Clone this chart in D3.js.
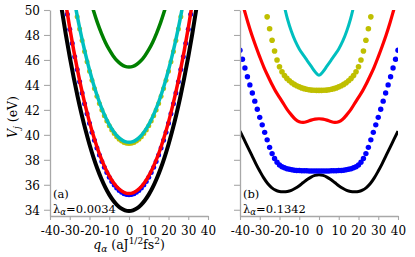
<!DOCTYPE html>
<html><head><meta charset="utf-8">
<script src="https://cdn.jsdelivr.net/npm/d3@7/dist/d3.min.js"></script>
<style>
html,body{margin:0;padding:0;background:#fff;}
svg{display:block;}
text{font-family:"DejaVu Serif",serif;}
</style></head>
<body>
<svg id="chart" width="415" height="257"></svg>
<script>
// ---------- data ----------
const qLine = [-40,-38,-36,-34,-32,-30,-28,-26,-24,-22,-20,-18,-16,-14,-12,-10,-8,-6,-4,-2,0,2,4,6,8,10,12,14,16,18,20,22,24,26,28,30,32,34,36,38,40];
const qDot = [-40,-38.75,-37.5,-36.25,-35,-33.75,-32.5,-31.25,-30,-28.75,-27.5,-26.25,-25,-23.75,-22.5,-21.25,-20,-18.75,-17.5,-16.25,-15,-13.75,-12.5,-11.25,-10,-8.75,-7.5,-6.25,-5,-3.75,-2.5,-1.25,0,1.25,2.5,3.75,5,6.25,7.5,8.75,10,11.25,12.5,13.75,15,16.25,17.5,18.75,20,21.25,22.5,23.75,25,26.25,27.5,28.75,30,31.25,32.5,33.75,35,36.25,37.5,38.75,40];

// panel (a), lambda = 0.0034
const aBlack = [56.75,54.34,52.09,50.00,48.05,46.25,44.58,43.05,41.65,40.38,39.23,38.20,37.28,36.48,35.79,35.21,34.74,34.37,34.11,33.95,33.90,33.95,34.11,34.37,34.74,35.21,35.79,36.48,37.28,38.20,39.23,40.38,41.65,43.05,44.58,46.25,48.05,50.00,52.09,54.34,56.75];
const aRed = [59.84,57.25,54.84,52.59,50.50,48.56,46.77,45.13,43.62,42.26,41.02,39.92,38.93,38.07,37.33,36.71,36.20,35.81,35.53,35.35,35.30,35.35,35.53,35.81,36.20,36.71,37.33,38.07,38.93,39.92,41.02,42.26,43.62,45.13,46.77,48.56,50.50,52.59,54.84,57.25,59.84];
const aCyan = [64.24,61.62,59.17,56.90,54.78,52.82,51.01,49.35,47.82,46.44,45.19,44.07,43.07,42.20,41.45,40.82,40.31,39.91,39.63,39.45,39.40,39.45,39.63,39.91,40.31,40.82,41.45,42.20,43.07,44.07,45.19,46.44,47.82,49.35,51.01,52.82,54.78,56.90,59.17,61.62,64.24];
const aGreen = [69.43,66.90,64.54,62.35,60.30,58.41,56.65,55.05,53.58,52.24,51.04,49.96,48.99,48.15,47.42,46.82,46.32,45.93,45.66,45.49,45.44,45.49,45.66,45.93,46.32,46.82,47.42,48.15,48.99,49.96,51.04,52.24,53.58,55.05,56.65,58.41,60.30,62.35,64.54,66.90,69.43];
const aBlue = [59.74,58.10,56.53,55.03,53.59,52.22,50.91,49.65,48.46,47.33,46.25,45.23,44.26,43.35,42.49,41.68,40.92,40.21,39.56,38.95,38.39,37.87,37.40,36.98,36.60,36.27,35.99,35.75,35.55,35.40,35.29,35.22,35.20,35.22,35.29,35.40,35.55,35.75,35.99,36.27,36.60,36.98,37.40,37.87,38.39,38.95,39.56,40.21,40.92,41.68,42.49,43.35,44.26,45.23,46.25,47.33,48.46,49.65,50.91,52.22,53.59,55.03,56.53,58.10,59.74];
const aYellow = [64.14,62.48,60.89,59.37,57.92,56.52,55.20,53.93,52.72,51.57,50.48,49.45,48.47,47.55,46.68,45.86,45.09,44.38,43.71,43.09,42.52,42.00,41.53,41.10,40.72,40.39,40.10,39.85,39.65,39.50,39.39,39.32,39.30,39.32,39.39,39.50,39.65,39.85,40.10,40.39,40.72,41.10,41.53,42.00,42.52,43.09,43.71,44.38,45.09,45.86,46.68,47.55,48.47,49.45,50.48,51.57,52.72,53.93,55.20,56.52,57.92,59.37,60.89,62.48,64.14];

// panel (b), lambda = 0.1342
const bBlack = [40.30,39.65,39.00,38.35,37.70,37.10,36.55,36.10,35.78,35.57,35.46,35.44,35.47,35.56,35.72,35.93,36.18,36.42,36.62,36.75,36.80,36.75,36.62,36.42,36.18,35.93,35.72,35.56,35.47,35.44,35.46,35.57,35.78,36.10,36.55,37.10,37.70,38.35,39.00,39.65,40.30];
const bRed = [51.20,50.10,49.00,48.00,47.10,46.25,45.45,44.75,44.10,43.50,43.00,42.50,42.00,41.60,41.25,41.05,41.00,41.07,41.18,41.26,41.29,41.26,41.18,41.07,41.00,41.05,41.25,41.60,42.00,42.50,43.00,43.50,44.10,44.75,45.45,46.25,47.10,48.00,49.00,50.10,51.20];
const bCyan = [69.00,67.10,65.30,63.50,61.70,60.00,58.20,56.60,55.00,53.50,52.00,50.60,49.30,48.30,47.50,46.88,46.40,45.95,45.50,45.05,44.77,45.05,45.50,45.95,46.40,46.88,47.50,48.30,49.30,50.60,52.00,53.50,55.00,56.60,58.20,60.00,61.70,63.50,65.30,67.10,69.00];
const bBlue = [46.78,46.05,45.35,44.65,44.00,43.35,42.70,42.05,41.40,40.80,40.20,39.60,39.00,38.50,38.10,37.80,37.58,37.45,37.36,37.29,37.24,37.20,37.17,37.15,37.14,37.13,37.12,37.12,37.11,37.11,37.10,37.10,37.10,37.10,37.10,37.11,37.11,37.12,37.12,37.13,37.14,37.15,37.17,37.20,37.24,37.29,37.36,37.45,37.58,37.80,38.10,38.50,39.00,39.60,40.20,40.80,41.40,42.05,42.70,43.35,44.00,44.65,45.35,46.05,46.78];
const bYellow = [59.40,58.50,57.60,56.70,55.80,54.90,54.00,53.10,52.20,51.30,50.35,49.45,48.50,47.58,46.72,46.00,45.45,45.05,44.75,44.52,44.33,44.17,44.04,43.93,43.84,43.76,43.70,43.65,43.61,43.58,43.57,43.56,43.56,43.56,43.57,43.58,43.61,43.65,43.70,43.76,43.84,43.93,44.04,44.17,44.33,44.52,44.75,45.05,45.45,46.00,46.72,47.58,48.50,49.45,50.35,51.30,52.20,53.10,54.00,54.90,55.80,56.70,57.60,58.50,59.40];

const xTicks = [-40,-30,-20,-10,0,10,20,30,40];
const yTicks = [34,36,38,40,42,44,46,48,50];
const panelLabels = ["(a)", "(b)"];
const lambdaLabels = ["0.0034", "0.1342"];

// ---------- layout ----------
const svg = d3.select("#chart");
const y = d3.scaleLinear().domain([33.5, 50]).range([216, 10]);
const xa = d3.scaleLinear().domain([-40, 40]).range([50, 208]);
const xb = d3.scaleLinear().domain([-40, 40]).range([240, 398]);
const AX = "#a8a8a8";

const defs = svg.append("defs");
[["clipA", xa], ["clipB", xb]].forEach(([id, xs]) => {
  defs.append("clipPath").attr("id", id).append("rect")
    .attr("x", xs.range()[0]).attr("y", y.range()[1])
    .attr("width", xs.range()[1] - xs.range()[0])
    .attr("height", y.range()[0] - y.range()[1]);
});

function drawPanel(xs, clipId, layers, idx, showYLabels) {
  const plot = svg.append("g").attr("clip-path", `url(#${clipId})`);
  layers.forEach(L => {
    if (L.type === "line") {
      const pts = qLine.map((q, i) => [q, L.v[i]]);
      plot.append("path").datum(pts)
        .attr("fill", "none").attr("stroke", L.c).attr("stroke-width", L.w)
        .attr("stroke-linejoin", "round")
        .attr("d", d3.line().x(d => xs(d[0])).y(d => y(d[1])).curve(d3.curveCatmullRom));
    } else {
      const pts = qDot.map((q, i) => [q, L.v[i]]).filter(d => d[1] <= 50.05);
      plot.append("g").selectAll("circle").data(pts).join("circle")
        .attr("cx", d => xs(d[0])).attr("cy", d => y(d[1])).attr("r", L.r).attr("fill", L.c);
    }
  });

  // axes
  const gy = svg.append("g").attr("transform", `translate(${xs.range()[0]},0)`)
    .call(d3.axisLeft(y).tickValues(yTicks).tickSize(6).tickSizeOuter(0).tickPadding(4));
  gy.select(".domain").attr("stroke", AX).attr("stroke-width", 1.3);
  gy.selectAll(".tick line").attr("stroke", AX).attr("stroke-width", 1.1);
  gy.selectAll(".tick text").attr("fill", "#000").style("font-size", "12px")
    .style("font-family", "DejaVu Serif").attr("dy", "0.36em");
  if (!showYLabels) gy.selectAll(".tick text").remove();

  const gx = svg.append("g").attr("transform", `translate(0,${y.range()[0]})`)
    .call(d3.axisBottom(xs).tickValues(xTicks).tickSize(4).tickSizeOuter(0).tickPadding(6)
      .tickFormat(d3.format("d")));
  gx.select(".domain").attr("stroke", AX).attr("stroke-width", 1.3);
  gx.selectAll(".tick line").attr("stroke", AX).attr("stroke-width", 1.1);
  gx.selectAll(".tick text").attr("fill", "#000").style("font-size", "12px")
    .style("font-family", "DejaVu Serif").text(d => d < 0 ? "-" + Math.abs(d) : String(d));

  // annotations
  const ax0 = xs.range()[0] + 3;
  svg.append("text").attr("x", ax0).attr("y", 197.5).style("font-size", "11.5px").text(panelLabels[idx]);
  const t = svg.append("text").attr("x", ax0).attr("y", 212.5).style("font-size", "11.5px");
  t.append("tspan").text("λ");
  t.append("tspan").attr("dy", 2.5).style("font-size", "8.5px").style("font-style", "italic").text("α");
  t.append("tspan").attr("dy", -2.5).text("=" + lambdaLabels[idx]);
}

drawPanel(xa, "clipA", [
  {type: "line", v: aBlack, c: "#000000", w: 4},
  {type: "dot", v: aBlue, c: "#0000ff", r: 2.5},
  {type: "line", v: aRed, c: "#ff0000", w: 3.5},
  {type: "dot", v: aYellow, c: "#bfbf00", r: 2.5},
  {type: "line", v: aCyan, c: "#00bfbf", w: 3.5},
  {type: "line", v: aGreen, c: "#008000", w: 3.5}
], 0, true);

drawPanel(xb, "clipB", [
  {type: "line", v: bBlack, c: "#000000", w: 3},
  {type: "dot", v: bBlue, c: "#0000ff", r: 2.7},
  {type: "line", v: bRed, c: "#ff0000", w: 3.2},
  {type: "dot", v: bYellow, c: "#bfbf00", r: 2.8},
  {type: "line", v: bCyan, c: "#00bfbf", w: 3}
], 1, false);

// axis titles
const yl = svg.append("text").attr("transform", "translate(17,117) rotate(-90)")
  .attr("text-anchor", "middle").style("font-size", "12.5px");
yl.append("tspan").style("font-style", "italic").text("V");
yl.append("tspan").attr("dy", 3).style("font-size", "9px").style("font-style", "italic").text("j");
yl.append("tspan").attr("dy", -3).text(" (eV)");

const xl = svg.append("text").attr("x", 129).attr("y", 249)
  .attr("text-anchor", "middle").style("font-size", "12.5px");
xl.append("tspan").style("font-style", "italic").text("q");
xl.append("tspan").attr("dy", 2.5).style("font-size", "9px").style("font-style", "italic").text("α");
xl.append("tspan").attr("dy", -2.5).text(" (aJ");
xl.append("tspan").attr("dy", -5).style("font-size", "9px").text("1/2");
xl.append("tspan").attr("dy", 5).text("fs");
xl.append("tspan").attr("dy", -5).style("font-size", "9px").text("2");
xl.append("tspan").attr("dy", 5).text(")");
</script>
</body></html>
